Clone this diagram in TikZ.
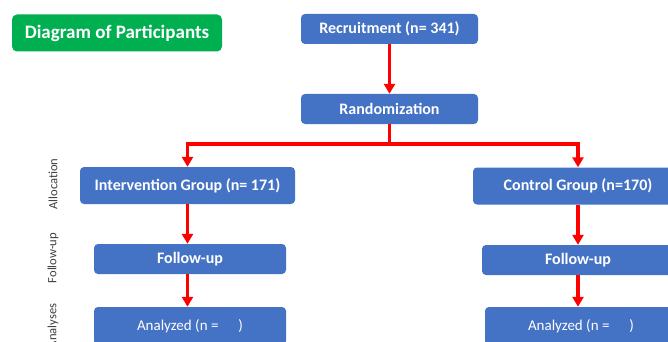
\documentclass[tikz,border=0pt]{standalone}
\usepackage{fontspec}
\setmainfont{Carlito}
\usetikzlibrary{arrows.meta}
\definecolor{boxblue}{HTML}{4472C4}
\definecolor{titlegreen}{HTML}{00B050}
\definecolor{flowred}{HTML}{FF0000}
\definecolor{sidegray}{HTML}{404040}
\begin{document}
\begin{tikzpicture}[x=1pt, y=-1pt,
    bluebox/.style={fill=boxblue, rounded corners=4pt, text=white, font=\fontsize{16}{18}\selectfont\bfseries, inner sep=0pt},
    flow/.style={draw=flowred, line width=3.6pt, -{Triangle[length=10pt,width=11pt]}},
    flowline/.style={draw=flowred, line width=3.6pt},
    sidelabel/.style={rotate=90, text=sidegray, font=\fontsize{12.6}{14}\selectfont}]
    \clip (0, 0) rectangle (668, 342);
    \fill[white] (0, 0) rectangle (668, 342);

    % title
    \node[fill=titlegreen, rounded corners=5pt, text=white, minimum width=210pt, minimum height=37pt, inner sep=0pt,
          font=\fontsize{19}{21}\selectfont\bfseries] (title) at (117, 33) {Diagram of Participants};

    % top of the chart
    \node[bluebox, minimum width=177pt, minimum height=30pt] (recruit) at (389.5, 29) {Recruitment (n= 341)};
    \node[bluebox, minimum width=177pt, minimum height=30pt] (random) at (389.5, 109) {Randomization};
    \coordinate (split) at (389.5, 144);

    % the two groups
    \node[bluebox, minimum width=215pt, minimum height=37pt] (interv) at (187.5, 185.5) {Intervention Group (n= 171)};
    \node[bluebox, minimum width=210pt, minimum height=37pt] (control) at (578, 186) {Control Group (n=170)};

    \node[bluebox, minimum width=192pt, minimum height=30pt] (followL) at (190, 259) {Follow-up};
    \node[bluebox, minimum width=192pt, minimum height=30pt] (followR) at (578, 260) {Follow-up};

    \node[bluebox, minimum width=192pt, minimum height=38pt, font=\fontsize{15}{17}\selectfont] (analyL) at (190, 326) {Analyzed (n = \hspace{1.1em})};
    \node[bluebox, minimum width=192pt, minimum height=38pt, font=\fontsize{15}{17}\selectfont] (analyR) at (581, 326) {Analyzed (n = \hspace{1.1em})};

    % arrows
    \draw[flow] (recruit) -- (random);
    \draw[flowline] (random) -- (split);
    \draw[flow] (split) -| (interv.north);
    \draw[flow] (split) -| (control.north);

    \draw[flow] (interv.south) -- (interv.south |- followL.north);
    \draw[flow] (interv.south |- followL.south) -- (interv.south |- analyL.north);
    \draw[flow] (control.south) -- (followR);
    \draw[flow] (followR) -- (followR |- analyR.north);

    % stages on the left
    \node[sidelabel] (allocation) at (53, 184) {Allocation};
    \node[sidelabel] (followup) at (53, 258) {Follow-up};
    \node[sidelabel] (analyses) at (53, 326) {Analyses};
\end{tikzpicture}
\end{document}
